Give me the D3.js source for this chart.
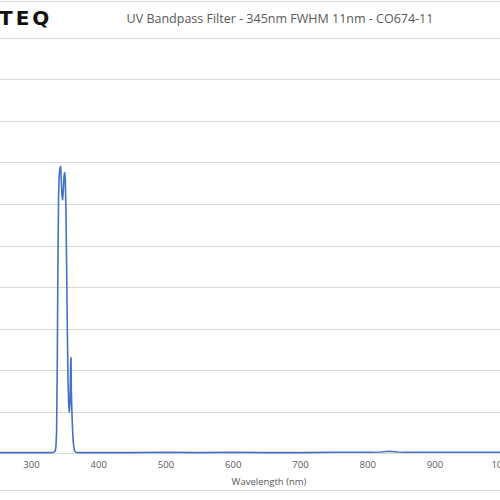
<!DOCTYPE html>
<html>

<head>
  <meta charset="utf-8" />
  <title>UV Bandpass Filter</title>
  <style>
    body {
      margin: 0;
      background: #fff;
    }

    text {
      font-family: "Open Sans", "Noto Sans", sans-serif;
    }
  </style>
  <script src="https://cdnjs.cloudflare.com/ajax/libs/d3/7.8.5/d3.min.js"></script>
</head>

<body>
  <div id="chartArea"></div>
  <script>
    // wavelength (nm) and transmission (%)
    var wavelength = [250, 280, 300, 320, 330, 334, 336, 337, 338, 339, 340, 341, 342, 343, 344, 345, 346, 347,
      348, 349, 350, 351, 352, 353, 354, 355, 356, 357, 358, 359, 359.5, 360, 361, 362, 363, 364, 365, 367, 370,
      380, 400, 450, 500, 550, 600, 650, 700, 750, 800, 820, 833, 845, 860, 900, 950, 1000, 1010];
    var transmission = [0.2, 0.2, 0.2, 0.2, 0.2, 0.3, 0.6, 1.5, 5, 20, 45, 62, 67, 68.5, 69, 66, 62, 61,
      63, 66.5, 67.5, 66, 58, 45, 30, 18, 12, 10, 12, 22, 23, 15, 9, 5, 2.5, 1.2, 0.6, 0.3, 0.2,
      0.2, 0.2, 0.2, 0.3, 0.2, 0.3, 0.2, 0.2, 0.3, 0.3, 0.35, 0.55, 0.35, 0.3, 0.3, 0.3, 0.3, 0.3];
    var xTicks = [300, 400, 500, 600, 700, 800, 900, 1000];
    var yTicks = [0, 10, 20, 30, 40, 50, 60, 70, 80, 90, 100];
    var title = 'UV Bandpass Filter - 345nm FWHM 11nm - CO674-11';

    var w = 500,
      h = 500;

    var xScale = d3.scaleLinear()
      .domain([300, 1000])
      .range([31, 501.75]);

    var yScale = d3.scaleLinear()
      .domain([0, 100])
      .range([453.5, 37.5]);

    var svg = d3.select('#chartArea').append('svg')
      .attr('width', w)
      .attr('height', h);

    // frame lines of the cropped chart
    svg.append('line')
      .attr('x1', 0).attr('x2', w).attr('y1', 1.5).attr('y2', 1.5)
      .attr('stroke', '#d9d9d9');
    svg.append('line')
      .attr('x1', 0).attr('x2', w).attr('y1', 490.5).attr('y2', 490.5)
      .attr('stroke', '#d9d9d9');

    // logo fragment
    svg.append('text')
      .attr('x', -1)
      .attr('y', 25)
      .attr('font-size', 20)
      .attr('font-weight', 'bold')
      .attr('letter-spacing', 3)
      .attr('fill', '#111')
      .style('font-family', 'DejaVu Sans, sans-serif')
      .text('TEQ');

    svg.append('text')
      .attr('x', 280)
      .attr('y', 23)
      .attr('text-anchor', 'middle')
      .attr('font-size', 12.5)
      .attr('fill', '#595959')
      .text(title);

    // gridlines
    svg.append('g')
      .selectAll('line')
      .data(yTicks.slice(1))
      .enter()
      .append('line')
      .attr('x1', 0)
      .attr('x2', w)
      .attr('y1', d => Math.round(yScale(d)) + 0.5)
      .attr('y2', d => Math.round(yScale(d)) + 0.5)
      .attr('stroke', '#d9d9d9');

    // x axis
    var xAxis = d3.axisBottom(xScale)
      .tickValues(xTicks)
      .tickFormat(d3.format('d'))
      .tickSize(0)
      .tickPadding(8);

    var gx = svg.append('g')
      .attr('transform', 'translate(0,' + yScale(0) + ')')
      .call(xAxis);
    gx.select('.domain').remove();
    gx.selectAll('text')
      .attr('font-size', 9.5)
      .attr('fill', '#595959')
      .style('font-family', '"Open Sans", sans-serif');

    svg.append('line')
      .attr('x1', 0).attr('x2', w)
      .attr('y1', yScale(0)).attr('y2', yScale(0))
      .attr('stroke', '#d9d9d9');

    svg.append('text')
      .attr('x', 269)
      .attr('y', 485)
      .attr('text-anchor', 'middle')
      .attr('font-size', 9.5)
      .attr('fill', '#595959')
      .text('Wavelength (nm)');

    var line = d3.line()
      .x((d, i) => xScale(wavelength[i]))
      .y(d => yScale(d));

    svg.append('path')
      .datum(transmission)
      .attr('d', line)
      .attr('fill', 'none')
      .attr('stroke', '#4472c4')
      .attr('stroke-width', 1.6)
      .attr('stroke-linejoin', 'round');
  </script>
</body>

</html>
